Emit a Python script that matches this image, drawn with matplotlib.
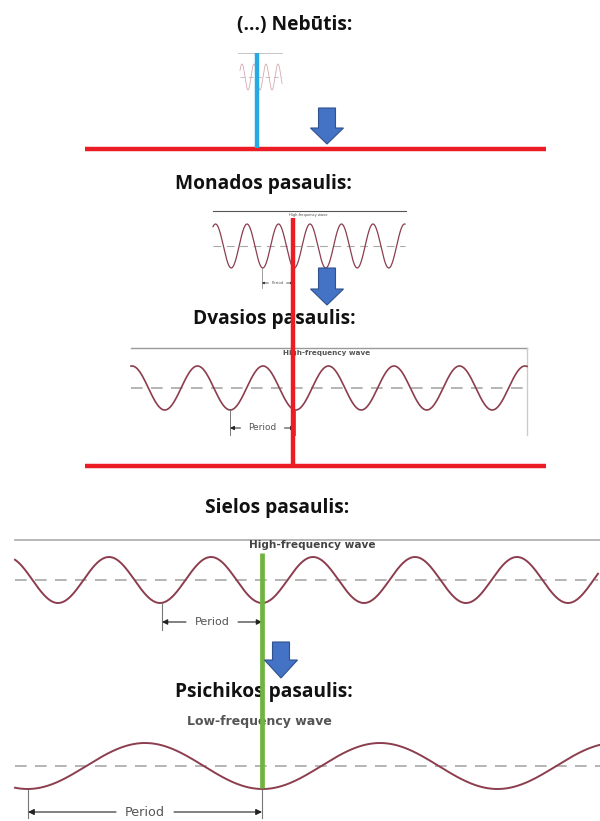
import numpy as np
import matplotlib
matplotlib.use("Agg")
import matplotlib.pyplot as plt
from matplotlib.patches import FancyArrow

# Text content
titles = ["(...) Nebūtis:", "Monados pasaulis:", "Dvasios pasaulis:",
          "Sielos pasaulis:", "Psichikos pasaulis:"]
wave_labels = ["", "High-frequency wave", "High-frequency wave",
               "High-frequency wave", "Low-frequency wave"]
period_label = "Period"

# Title positions (pixels)
title_x = [295, 263, 274, 277, 264]
title_y = [25, 184, 319, 508, 692]

# Wave panels: x start, x end, midline, amplitude, period, first peak
wave_x0 = [240, 213, 131, 15, 15]
wave_x1 = [282, 405, 527, 598, 600]
wave_mid = [77, 246, 388, 580, 766]
wave_amp = [13, 22, 22, 23, 23]
wave_period = [12, 31.5, 65.5, 102, 235]
wave_peak = [242, 247, 132, 109, 145]

WAVE = "#8c3d4e"
DASH = "#a8a8a8"
RED = "#ec1c24"
BLUE_LINE = "#27a9e1"
GREEN = "#6fb43f"
ARROW = "#4472c4"

fig = plt.figure(figsize=(6, 8.21), dpi=100)
ax = fig.add_axes([0, 0, 1, 1])
ax.set_xlim(0, 600)
ax.set_ylim(821, 0)
ax.axis("off")


def draw_wave(i, lw, color=WAVE, dash_lw=1.2):
    x = np.linspace(wave_x0[i], wave_x1[i], 800)
    y = wave_mid[i] - wave_amp[i] * np.cos(2 * np.pi * (x - wave_peak[i]) / wave_period[i])
    ax.plot([wave_x0[i], wave_x1[i]], [wave_mid[i]] * 2, color=DASH, lw=dash_lw,
            dashes=(7, 5), zorder=2)
    ax.plot(x, y, color=color, lw=lw, zorder=3)


def draw_period(xl, xr, y_top, y_bot, y_arr, fs, lw, gap, head):
    for xv in [xl, xr]:
        ax.plot([xv, xv], [y_top, y_bot], color="#777777", lw=lw, zorder=3)
    xm = (xl + xr) / 2
    ax.text(xm, y_arr, period_label, ha="center", va="center", fontsize=fs,
            color="#555555", fontfamily="DejaVu Sans", zorder=4)
    for x_end, x_start in [(xl, xm - gap), (xr, xm + gap)]:
        ax.annotate("", xy=(x_end, y_arr), xytext=(x_start, y_arr),
                    arrowprops=dict(arrowstyle="-|>", color="#222222", lw=lw,
                                    shrinkA=0, shrinkB=0, mutation_scale=head),
                    zorder=4)


def block_arrow(xc, ytop, ytip, head_y):
    ax.add_patch(FancyArrow(xc, ytop, 0, ytip - ytop, width=17, head_width=33,
                            head_length=ytip - head_y, length_includes_head=True,
                            facecolor=ARROW, edgecolor="#2f528f", lw=0.8, zorder=6))


# Titles
for t, x, y in zip(titles, title_x, title_y):
    ax.text(x, y, t, ha="center", va="center", fontsize=13.8, fontweight="bold",
            fontfamily="Open Sans", color="#111111", zorder=4)

# Panel 0 (tiny)
ax.plot([238, 282], [53, 53], color="#bbbbbb", lw=0.6, zorder=2)
draw_wave(0, 0.6, color="#d7a8b1", dash_lw=0.5)

# Panel 1
ax.plot([213, 406], [211, 211], color="#555555", lw=0.8, zorder=2)
ax.text(308, 215, wave_labels[1], ha="center", va="center", fontsize=2.6,
        color="#444444", fontfamily="DejaVu Sans", zorder=4)
draw_wave(1, 0.9, dash_lw=0.8)
draw_period(262, 293, 268, 288, 283, 2.8, 0.5, 9, 3)

# Panel 2
ax.plot([131, 527], [348, 348], color="#999999", lw=1.0, zorder=2)
ax.plot([527, 527], [348, 435], color="#cccccc", lw=1.0, zorder=2)
ax.text(327, 353, wave_labels[2], ha="center", va="center", fontsize=5.2,
        fontweight="bold", color="#555555", fontfamily="DejaVu Sans", zorder=4)
draw_wave(2, 1.2)
draw_period(230, 295, 410, 435, 428, 6.5, 0.7, 22, 6)

# Panel 3
ax.plot([15, 600], [540, 540], color="#aaaaaa", lw=1.2, zorder=2)
ax.text(312, 545, wave_labels[3], ha="center", va="center", fontsize=7.6,
        fontweight="bold", color="#444444", fontfamily="DejaVu Sans", zorder=4)
draw_wave(3, 1.4)
draw_period(162, 262, 603, 630, 622, 8.0, 0.8, 26, 8)

# Panel 4
ax.text(259, 722, wave_labels[4], ha="center", va="center", fontsize=9.0,
        fontweight="bold", color="#555555", fontfamily="DejaVu Sans", zorder=4)
draw_wave(4, 1.4)
draw_period(28, 262, 790, 818, 812, 9.2, 0.8, 29, 9)

# Red horizontal lines and vertical line
for yh in [149, 466]:
    ax.plot([85, 546], [yh, yh], color=RED, lw=3.2, solid_capstyle="butt", zorder=5)
ax.plot([293, 293], [218, 466], color=RED, lw=3.2, solid_capstyle="butt", zorder=5)

# Blue vertical line
ax.plot([257, 257], [53, 148], color=BLUE_LINE, lw=3.2, solid_capstyle="butt", zorder=5)

# Green vertical line
ax.plot([262, 262], [553, 788], color=GREEN, lw=3.4, solid_capstyle="butt", zorder=5)

# Block arrows
block_arrow(327, 108, 144, 128)
block_arrow(327, 268, 305, 289)
block_arrow(281, 642, 678, 660)

fig.savefig("out.png", dpi=100)
